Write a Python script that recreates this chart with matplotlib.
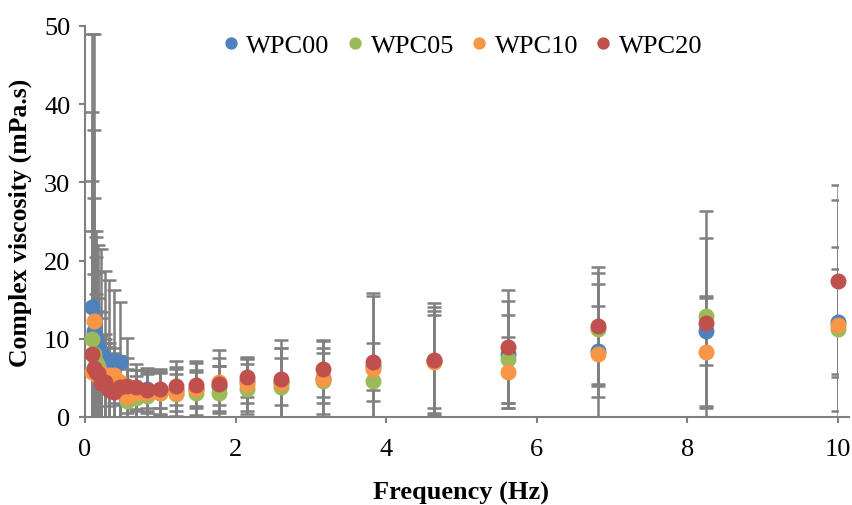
import numpy as np
import matplotlib
matplotlib.use("Agg")
import matplotlib.pyplot as plt

plt.rcParams['font.family'] = ['Liberation Serif', 'DejaVu Serif']

freq = [0.1, 0.121, 0.147, 0.178, 0.215, 0.261, 0.316, 0.383, 0.464, 0.562, 0.681, 0.825,
        1.0, 1.21, 1.47, 1.78, 2.15, 2.61, 3.16, 3.83, 4.64, 5.62, 6.81, 8.25, 10.0]

wpc00 = [14.0, 11.0, 9.8, 9.0, 8.2, 7.6, 7.3, 7.2, 7.0, 3.6, 3.5, 3.6, 3.4, 3.5, 3.6, 4.0,
         4.6, 4.5, 5.0, 6.5, 7.1, 8.0, 8.4, 11.0, 12.2]
wpc05 = [10.0, 8.0, 7.0, 6.5, 5.4, 4.6, 4.0, 3.5, 3.3, 2.0, 2.4, 2.7, 3.0, 2.9, 3.0, 3.0,
         3.6, 3.8, 4.6, 4.6, 7.1, 7.4, 11.3, 12.9, 11.2]
wpc10 = [5.8, 12.3, 5.5, 5.2, 5.6, 5.0, 5.4, 5.3, 4.5, 2.6, 3.0, 3.0, 3.1, 3.1, 3.6, 4.5,
         4.2, 4.3, 4.9, 6.1, 7.0, 5.7, 8.0, 8.3, 11.8]
wpc20 = [8.1, 6.3, 5.7, 5.6, 4.4, 4.5, 3.5, 3.2, 3.8, 4.0, 3.8, 3.5, 3.6, 3.9, 4.1, 4.2,
         5.1, 4.9, 6.1, 7.0, 7.3, 9.0, 11.6, 12.0, 17.4]

err00 = [25, 38, 14, 13, 13.3, 11, 10.2, 9, 7.7, 6.5, 2.5, 2.4, 2.3, 2.0, 2.2, 2.5,
         2.8, 3.0, 3.2, 3.0, 6.9, 6.8, 5.8, 4.4, 6.7]
err05 = [39, 20, 16, 12, 8, 6, 5, 4, 3.5, 2.5, 2.8, 3, 2.6, 3.5, 3, 3.5,
         3.2, 5.0, 4.2, 2.6, 5.9, 5.6, 7.1, 13.4, 10.5]
err10 = [18, 24.4, 15, 10, 7, 5, 4, 3.5, 3, 3.5, 3, 2.5, 2.8, 3, 3.3, 4.0,
         3.4, 4.5, 5, 9.4, 6.5, 4.5, 9.0, 6.9, 15.9]
err20 = [22, 12, 10, 8, 6, 5, 4, 5, 4, 3.5, 3, 2.7, 2.5, 3.2, 3.0, 3.4,
         2.6, 5.0, 3.6, 8.9, 7.3, 7.2, 7.6, 10.9, 12.3]

names = ['WPC00', 'WPC05', 'WPC10', 'WPC20']
colors = ['#4f81bd', '#9bbb59', '#f79646', '#c0504d']
series = [wpc00, wpc05, wpc10, wpc20]
errors = [err00, err05, err10, err20]

fig = plt.figure(figsize=(8.53, 5.06), dpi=100)
ax = fig.add_axes([0.0996, 0.174, 0.8826, 0.773])

for y, e in zip(series, errors):
    ax.errorbar(freq, y, yerr=e, fmt='none', ecolor='#808080', elinewidth=1.8,
                capsize=5, capthick=1.8, zorder=1)
for y, c, n in zip(series, colors, names):
    ax.plot(freq, y, 'o', color=c, markersize=10.5, label=n, zorder=3, clip_on=False)

ax.set_xlim(0, 10)
ax.set_ylim(0, 50)
ax.set_xticks(range(0, 11, 2))
ax.set_yticks(range(0, 51, 10))
for s in ['top', 'right']:
    ax.spines[s].set_visible(False)
for s in ['left', 'bottom']:
    ax.spines[s].set_color('#808080')
    ax.spines[s].set_linewidth(1.5)
ax.spines['bottom'].set_bounds(0, 10.15)
ax.tick_params(axis='both', colors='#808080', width=1.5, length=4.5, labelsize=19,
               labelcolor='black')
ax.tick_params(axis='x', pad=11)
ax.tick_params(axis='y', pad=6)
ax.set_xlabel('Frequency (Hz)', fontsize=19, fontweight='bold', labelpad=15)
ax.set_ylabel('Complex viscosity (mPa.s)', fontsize=18.5, fontweight='bold', labelpad=9)

ax.legend(loc='upper center', ncol=4, frameon=False, fontsize=19, markerscale=0.75,
          handletextpad=0.2, columnspacing=0.55, handlelength=0.8,
          bbox_to_anchor=(0.5, 1.04))

fig.savefig('out.png', dpi=100)
